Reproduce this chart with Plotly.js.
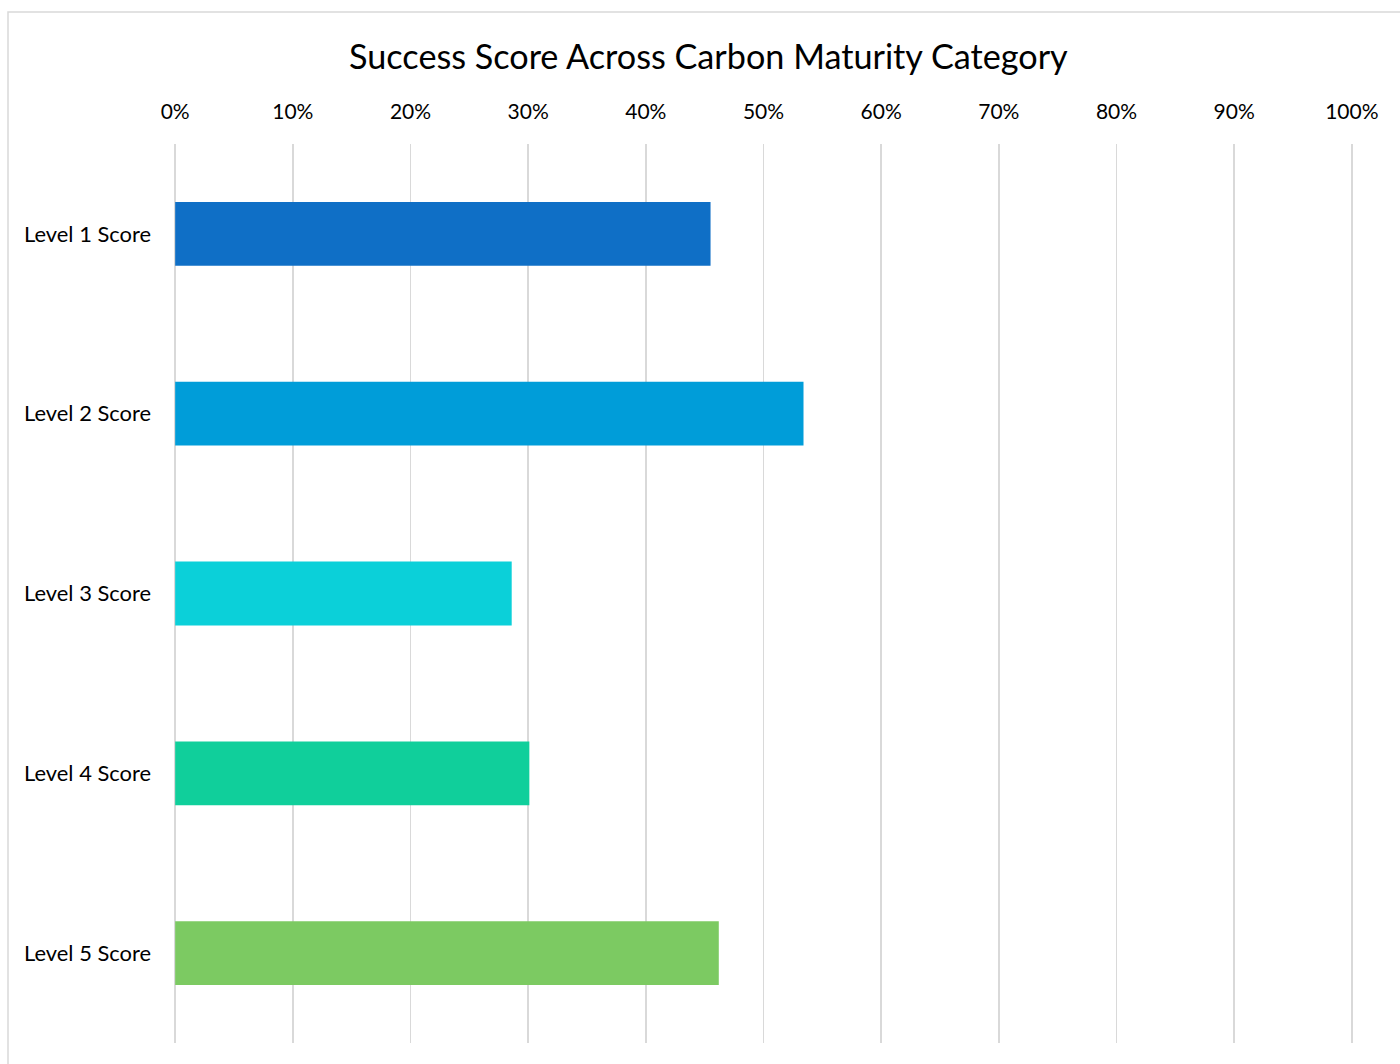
<!DOCTYPE html>
<html>
<head>
<meta charset="utf-8">
<script src="https://cdn.plot.ly/plotly-3.0.1.min.js"></script>
<style>
html,body{margin:0;padding:0;background:#fff;}
#chart{width:1400px;height:1064px;}
</style>
</head>
<body>
<div id="chart"></div>
<script>
const categories = ["Level 1 Score", "Level 2 Score", "Level 3 Score", "Level 4 Score", "Level 5 Score"];
const scores = [45.5, 53.4, 28.6, 30.1, 46.2];
const barColors = ["#0F6FC6", "#009DD9", "#0BD0D9", "#10CF9B", "#7CCA62"];
const tickValues = [0, 10, 20, 30, 40, 50, 60, 70, 80, 90, 100];
const tickLabels = ["0%", "10%", "20%", "30%", "40%", "50%", "60%", "70%", "80%", "90%", "100%"];
const chartTitle = "Success Score Across Carbon Maturity Category";

const FONT = "Lato, 'Open Sans', sans-serif";

const trace = {
  type: "bar",
  orientation: "h",
  x: scores,
  y: categories,
  marker: {color: barColors, line: {width: 0}},
  hoverinfo: "x+y"
};

const layout = {
  width: 1400,
  height: 1064,
  paper_bgcolor: "#ffffff",
  plot_bgcolor: "#ffffff",
  margin: {l: 174, r: 47, t: 144, b: 21},
  bargap: 0.645,
  showlegend: false,
  font: {family: FONT, color: "#000000"},
  title: {
    text: chartTitle,
    font: {family: FONT, size: 34.2, color: "#000000"},
    xref: "container", x: 0.506, xanchor: "center",
    yref: "container", y: 1 - 57/1064, yanchor: "middle"
  },
  xaxis: {
    side: "top",
    range: [-0.1, 100.1],
    tickvals: tickValues,
    ticktext: tickLabels,
    showgrid: true,
    gridcolor: "#D9D9D9",
    gridwidth: 1.6,
    zeroline: false,
    showline: false,
    ticks: "",
    ticklabelstandoff: 20,
    tickfont: {family: FONT, size: 21, color: "#000000"},
    fixedrange: true
  },
  yaxis: {
    autorange: "reversed",
    showgrid: false,
    zeroline: false,
    showline: false,
    ticks: "",
    ticklabelstandoff: 22,
    tickfont: {family: FONT, size: 21.9, color: "#000000"},
    fixedrange: true
  },
  shapes: [{
    type: "rect",
    xref: "paper", yref: "paper",
    x0: (8 - 174) / 1179, x1: 1.3,
    y0: -0.2, y1: 1 + (144 - 12) / 899,
    line: {color: "#D9D9D9", width: 1.5},
    fillcolor: "rgba(0,0,0,0)",
    layer: "below"
  }]
};

Plotly.newPlot("chart", [trace], layout, {displayModeBar: false, staticPlot: true});
</script>
</body>
</html>
